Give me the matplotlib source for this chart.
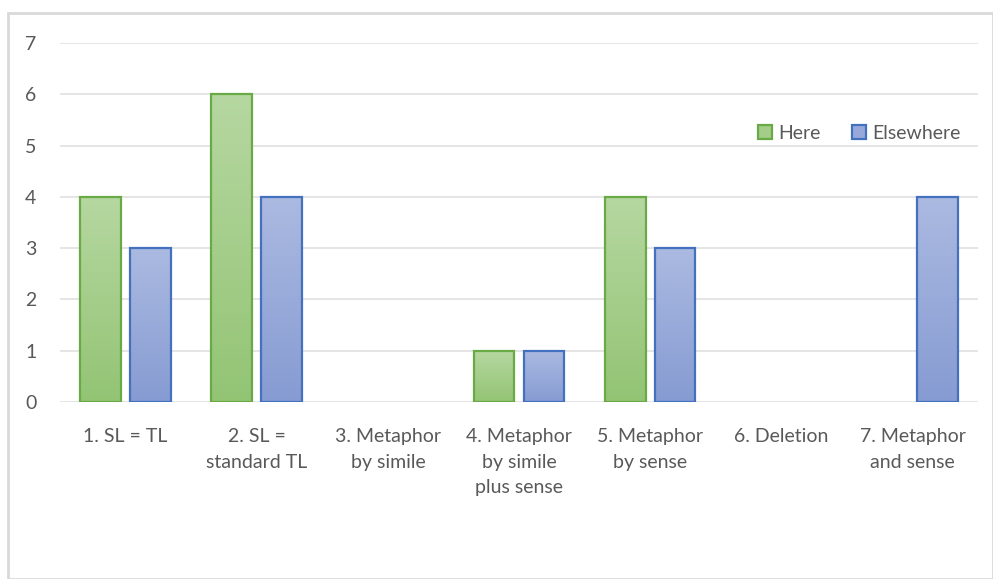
import numpy as np
import matplotlib.pyplot as plt
from matplotlib.patches import Rectangle, Patch
from matplotlib.colors import LinearSegmentedColormap

categories = ["1. SL = TL", "2. SL =\nstandard TL", "3. Metaphor\nby simile",
              "4. Metaphor\nby simile\nplus sense", "5. Metaphor\nby sense",
              "6. Deletion", "7. Metaphor\nand sense"]
here = [4, 6, 0, 1, 4, 0, 0]
elsewhere = [3, 4, 0, 1, 3, 0, 4]
yticks = [0, 1, 2, 3, 4, 5, 6, 7]

plt.rcParams['font.family'] = ['Lato', 'DejaVu Sans']

fig = plt.figure(figsize=(9.93, 5.79), dpi=100)
ax = fig.add_axes([0.0604, 0.3057, 0.9246, 0.62])

# figure border
fig.patches.append(Rectangle((8/993, 0), 1 - 8/993, 1 - 13/579, transform=fig.transFigure,
                             fill=False, edgecolor='#d9d9d9', linewidth=2))

green_cmap = LinearSegmentedColormap.from_list('g', ['#93c474', '#b6d7a1'])
blue_cmap = LinearSegmentedColormap.from_list('b', ['#869bd2', '#abbae1'])

x = np.arange(len(categories))
w = 0.31
off = 0.19
grad = np.linspace(0, 1, 256).reshape(-1, 1)

def draw(xs, vals, cmap, edge, label):
    bars = ax.bar(xs, vals, w, facecolor='none', edgecolor=edge, linewidth=1.6, zorder=3, label=label)
    for b, v in zip(bars, vals):
        if v <= 0:
            b.set_visible(False)
            continue
        x0 = b.get_x()
        ax.imshow(grad, cmap=cmap, origin='lower', aspect='auto',
                  extent=(x0, x0 + w, 0, v), zorder=2)
    return bars

draw(x - off, here, green_cmap, '#6aaa46', 'Here')
draw(x + off, elsewhere, blue_cmap, '#4470c0', 'Elsewhere')

ax.set_xlim(-0.5, len(categories) - 0.5)
ax.set_ylim(0, 7)
ax.set_yticks(yticks)
ax.set_xticks(x)
ax.set_xticklabels(categories, va='top', linespacing=1.6)
for s in ax.spines.values():
    s.set_visible(False)
ax.grid(axis='y', color='#e0e0e0', linewidth=1.2, zorder=0)
ax.set_axisbelow(True)
ax.tick_params(axis='x', length=0, labelsize=14, colors='#595959', pad=19)
ax.tick_params(axis='y', length=0, labelsize=14, colors='#595959', pad=17)

handles = [Patch(facecolor='#a3cd89', edgecolor='#6aaa46', linewidth=1.6, label='Here'),
           Patch(facecolor='#97a9da', edgecolor='#4470c0', linewidth=1.6, label='Elsewhere')]
leg = ax.legend(handles=handles, loc='upper right', bbox_to_anchor=(1.0, 0.82), ncol=2,
                frameon=False, fontsize=14, handlelength=0.75, handleheight=0.75,
                handletextpad=0.3, columnspacing=1.6)
for t in leg.get_texts():
    t.set_color('#595959')

fig.savefig('out.png', dpi=100)
